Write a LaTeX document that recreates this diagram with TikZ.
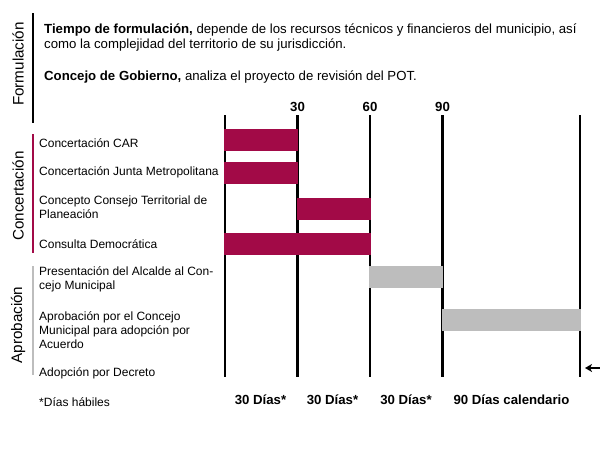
\documentclass[tikz,border=0pt]{standalone}
\usepackage{fontspec}
\setmainfont{Liberation Sans}
\usetikzlibrary{arrows.meta}
\definecolor{mag}{HTML}{A20A47}
\definecolor{gry}{HTML}{BDBDBD}
\tikzset{
  phase/.style={rotate=90, font=\fontsize{15.2}{17}\selectfont, inner sep=0pt},
  head/.style={anchor=west, align=left, font=\fontsize{13.2}{15}\selectfont, inner sep=0pt},
  lbl/.style={anchor=west, align=left, font=\fontsize{12}{14}\selectfont, inner sep=0pt},
  tick/.style={font=\bfseries\fontsize{13.2}{15}\selectfont, inner sep=0pt},
  dur/.style={font=\bfseries\fontsize{13.2}{15}\selectfont, inner sep=0pt},
  grid/.style={line width=2.2pt, black},
  magbar/.style={fill=mag},
  grybar/.style={fill=gry},
}
\begin{document}
\begin{tikzpicture}[x=1pt,y=-1pt]
\useasboundingbox (0,0) rectangle (600,458);
% phase labels and side bars
\node[phase] (pf) at (18,64) {Formulación};
\draw[line width=2pt, black] (33,13) -- (33,123);
\node[phase] (pc) at (18,196) {Concertación};
\draw[line width=2pt, mag] (33,134) -- (33,253);
\node[phase] (pa) at (18,325) {Aprobación};
\draw[line width=2pt, gry] (33,266) -- (33,375);
% header
\node[head] (h1) at (44,37.5) {\textbf{Tiempo de formulación,} depende de los recursos técnicos y financieros del municipio, así\\como la complejidad del territorio de su jurisdicción.};
\node[head] (h2) at (44,77) {\textbf{Concejo de Gobierno,} analiza el proyecto de revisión del POT.};
% row labels
\node[lbl] (r1) at (39,143) {Concertación CAR};
\node[lbl] (r2) at (39,172) {Concertación Junta Metropolitana};
\node[lbl] (r3) at (39,207.5) {Concepto Consejo Territorial de\\Planeación};
\node[lbl] (r4) at (39,244) {Consulta Democrática};
\node[lbl] (r5) at (39,279.5) {Presentación del Alcalde al Con-\\cejo Municipal};
\node[lbl] (r6) at (39,330) {Aprobación por el Concejo\\Municipal para adopción por\\Acuerdo};
\node[lbl] (r7) at (39,373) {Adopción por Decreto};
\node[lbl] (r8) at (39,402) {*Días hábiles};
% grid lines
\foreach \x in {225,297.5,370,442.5,580}{\draw[grid] (\x,115) -- (\x,377);}
% ticks
\node[tick] (t30) at (297.5,106.5) {30};
\node[tick] (t60) at (370,106.5) {60};
\node[tick] (t90) at (442.5,106.5) {90};
% bars
\fill[magbar] (224,129) rectangle (298,151);
\fill[magbar] (224,161.5) rectangle (298,184);
\fill[magbar] (296.5,197.5) rectangle (370.5,220);
\fill[magbar] (224,233) rectangle (370.5,255);
\fill[grybar] (369,266) rectangle (442.5,287.5);
\fill[grybar] (442,309) rectangle (581,330.5);
% durations
\node[dur] (d1) at (260.5,400) {30 Días*};
\node[dur] (d2) at (332.5,400) {30 Días*};
\node[dur] (d3) at (406,400) {30 Días*};
\node[dur] (d4) at (511.5,400) {90 Días calendario};
% arrow
\coordinate (ae) at (601,368);
\coordinate (at) at (585,368);
\draw[line width=1.6pt, -{Stealth[length=7pt,width=8pt,inset=2pt]}] (ae) -- (at);
\end{tikzpicture}
\end{document}
